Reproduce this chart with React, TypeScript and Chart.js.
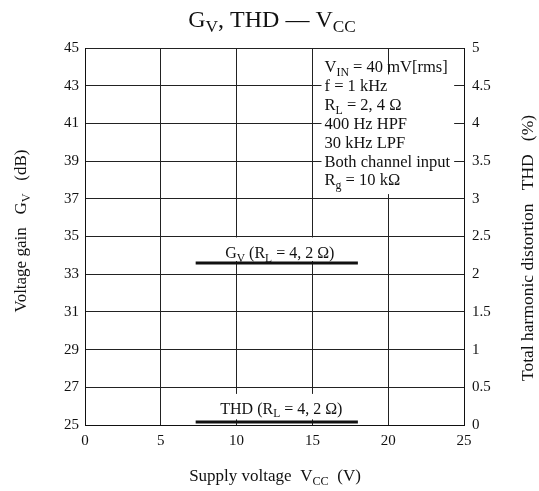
import React, { useEffect, useRef } from "react";
import { Chart, registerables } from "chart.js";

Chart.register(...registerables);

// ---- data ----
const gvVcc = [7.3, 18];
const gvDb = [33.6, 33.6];
const thdVcc = [7.3, 18];
const thdPct = [0.04, 0.04];

const xTicks = [0, 5, 10, 15, 20, 25];
const yLeftRange = [25, 45];
const yRightRange = [0, 5];

type Seg = { t: string; sub?: boolean };
const titleSegs: Seg[] = [{ t: "G" }, { t: "V", sub: true }, { t: ", THD \u2014 V" }, { t: "CC", sub: true }];
const xTitleSegs: Seg[] = [{ t: "Supply voltage  V" }, { t: "CC", sub: true }, { t: "  (V)" }];
const yTitleSegs: Seg[] = [{ t: "Voltage gain   G" }, { t: "V", sub: true }, { t: "   (dB)" }];
const y2TitleSegs: Seg[] = [{ t: "Total harmonic distortion   THD   (%)" }];
const conditionLines: Seg[][] = [
  [{ t: "V" }, { t: "IN", sub: true }, { t: " = 40 mV[rms]" }],
  [{ t: "f = 1 kHz" }],
  [{ t: "R" }, { t: "L", sub: true }, { t: " = 2, 4 \u03A9" }],
  [{ t: "400 Hz HPF" }],
  [{ t: "30 kHz LPF" }],
  [{ t: "Both channel input" }],
  [{ t: "R" }, { t: "g", sub: true }, { t: " = 10 k\u03A9" }],
];
const gvLabel: Seg[] = [{ t: "G" }, { t: "V", sub: true }, { t: " (R" }, { t: "L", sub: true }, { t: " = 4, 2 \u03A9)" }];
const thdLabel: Seg[] = [{ t: "THD (R" }, { t: "L", sub: true }, { t: " = 4, 2 \u03A9)" }];

const FONT = "'Liberation Serif', 'Times New Roman', serif";

function segWidth(ctx: CanvasRenderingContext2D, segs: Seg[], size: number) {
  let w = 0;
  for (const s of segs) {
    ctx.font = `${s.sub ? size * 0.72 : size}px ${FONT}`;
    w += ctx.measureText(s.t).width;
  }
  return w;
}

function drawSegs(
  ctx: CanvasRenderingContext2D,
  segs: Seg[],
  x: number,
  y: number,
  size: number,
  align: "left" | "center"
) {
  const w = segWidth(ctx, segs, size);
  let cx = align === "center" ? x - w / 2 : x;
  ctx.textBaseline = "alphabetic";
  ctx.textAlign = "left";
  ctx.fillStyle = "#111";
  for (const s of segs) {
    const sz = s.sub ? size * 0.72 : size;
    ctx.font = `${sz}px ${FONT}`;
    ctx.fillText(s.t, cx, y + (s.sub ? size * 0.22 : 0));
    cx += ctx.measureText(s.t).width;
  }
  return w;
}

const annotPlugin = {
  id: "annot",
  beforeDatasetsDraw(chart: any) {
    const ctx: CanvasRenderingContext2D = chart.ctx;
    const xs = chart.scales.x;
    const ys = chart.scales.y;
    ctx.save();
    // conditions box background
    const bx = xs.getPixelForValue(15.6);
    const bxr = xs.getPixelForValue(24.35);
    const topY = ys.getPixelForValue(43.6);
    const botY = ys.getPixelForValue(37.25);
    ctx.fillStyle = "#fff";
    ctx.fillRect(bx, topY, bxr - bx, botY - topY);
    const tx = xs.getPixelForValue(15.8);
    conditionLines.forEach((segs, i) => {
      const yv = 44 - i;
      drawSegs(ctx, segs, tx, ys.getPixelForValue(yv) + 5.5, 16.5, "left");
    });
    // line labels
    const gx = xs.getPixelForValue(12.85);
    const gy = ys.getPixelForValue(34.1);
    const gw = segWidth(ctx, gvLabel, 16);
    ctx.fillStyle = "#fff";
    ctx.fillRect(gx - gw / 2 - 2, ys.getPixelForValue(34.95), gw + 4, ys.getPixelForValue(33.7) - ys.getPixelForValue(34.95));
    drawSegs(ctx, gvLabel, gx, gy + 5, 16, "center");
    const hx = xs.getPixelForValue(12.95);
    const hy = ys.getPixelForValue(25.9);
    const hw = segWidth(ctx, thdLabel, 16);
    ctx.fillStyle = "#fff";
    ctx.fillRect(hx - hw / 2 - 2, ys.getPixelForValue(26.65), hw + 4, ys.getPixelForValue(25.3) - ys.getPixelForValue(26.65));
    drawSegs(ctx, thdLabel, hx, hy + 5.5, 16, "center");
    ctx.restore();
  },
  afterDraw(chart: any) {
    const ctx: CanvasRenderingContext2D = chart.ctx;
    ctx.save();
    drawSegs(ctx, titleSegs, 272, 27, 24, "center");
    drawSegs(ctx, xTitleSegs, 275, 481, 17, "center");
    ctx.save();
    ctx.translate(26, 231);
    ctx.rotate(-Math.PI / 2);
    drawSegs(ctx, yTitleSegs, 0, 0, 17, "center");
    ctx.restore();
    ctx.save();
    ctx.translate(533, 248);
    ctx.rotate(-Math.PI / 2);
    drawSegs(ctx, y2TitleSegs, 0, 0, 17.5, "center");
    ctx.restore();
    ctx.restore();
  },
};

export default function App() {
  const ref = useRef<HTMLCanvasElement | null>(null);
  useEffect(() => {
    if (!ref.current) return;
    const tickFont = { family: FONT, size: 15 };
    const chart = new Chart(ref.current, {
      type: "line",
      data: {
        datasets: [
          {
            label: "Gv",
            data: gvVcc.map((x, i) => ({ x, y: gvDb[i] })),
            borderColor: "#111",
            borderWidth: 3,
            pointRadius: 0,
            yAxisID: "y",
          },
          {
            label: "THD",
            data: thdVcc.map((x, i) => ({ x, y: thdPct[i] })),
            borderColor: "#111",
            borderWidth: 3,
            pointRadius: 0,
            yAxisID: "y2",
          },
        ],
      },
      options: {
        responsive: false,
        animation: false,
        layout: { padding: { top: 48, left: 0, right: 0, bottom: 0 } },
        plugins: { legend: { display: false }, tooltip: { enabled: false } },
        scales: {
          x: {
            type: "linear",
            min: xTicks[0],
            max: xTicks[xTicks.length - 1],
            afterBuildTicks: (s: any) => {
              s.ticks = xTicks.map((v) => ({ value: v }));
            },
            ticks: { font: tickFont, color: "#111", padding: 7, maxRotation: 0 },
            grid: { color: "#222", lineWidth: 1, drawTicks: false },
            border: { color: "#111", width: 1 },
            afterFit: (s: any) => {
              s.height = 491 - 425;
            },
          },
          y: {
            position: "left",
            min: yLeftRange[0],
            max: yLeftRange[1],
            ticks: { stepSize: 2, font: tickFont, color: "#111", padding: 6 },
            grid: { color: "#222", lineWidth: 1, drawTicks: false },
            border: { color: "#111", width: 1 },
            afterFit: (s: any) => {
              s.width = 85;
            },
          },
          y2: {
            position: "right",
            min: yRightRange[0],
            max: yRightRange[1],
            ticks: {
              stepSize: 0.5,
              font: tickFont,
              color: "#111",
              padding: 8,
              callback: (v: any) => String(Math.round(Number(v) * 10) / 10),
            },
            grid: { display: false, drawTicks: false },
            border: { color: "#111", width: 1 },
            afterFit: (s: any) => {
              s.width = 539 - 464;
            },
          },
        },
      },
      plugins: [annotPlugin],
    } as any);
    return () => chart.destroy();
  }, []);
  return (
    <div style={{ position: "fixed", left: 0, top: 0, width: 539, height: 491, background: "#fff" }}>
      <canvas ref={ref} width={539} height={491} style={{ display: "block" }} />
    </div>
  );
}
